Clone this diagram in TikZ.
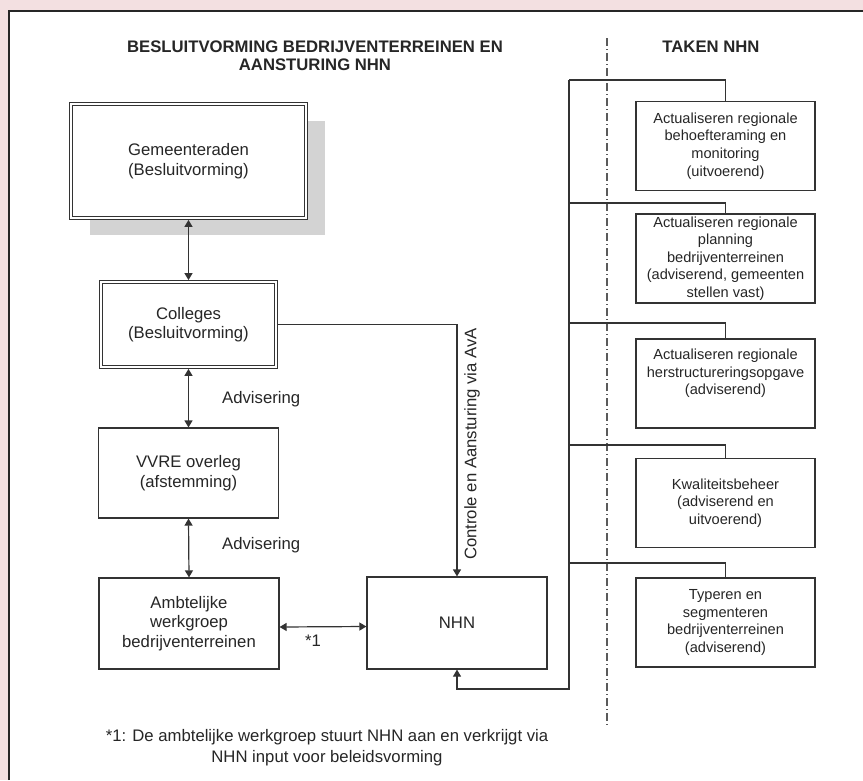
\documentclass[tikz,border=0pt]{standalone}
\usepackage{fontspec}
\setmainfont{Liberation Sans}
\usetikzlibrary{arrows.meta,shadows}
\definecolor{randroze}{HTML}{F3E0E1}
\definecolor{lijn}{HTML}{333333}
\definecolor{schaduw}{HTML}{D3D3D3}
\definecolor{tekst}{HTML}{262626}
\definecolor{streep}{HTML}{5A5A5A}
\begin{document}
\begin{tikzpicture}[x=1pt,y=-1pt,
    blok/.style={draw=lijn, line width=1.2pt, fill=white, text=tekst, align=center, inner sep=0pt,
      minimum width=180pt, minimum height=90pt, font=\fontsize{16.7}{19.5}\selectfont},
    dubbel/.style={blok, double=white, double distance=2pt, line width=0.9pt, outer sep=1.9pt},
    taak/.style={blok, minimum width=179pt, minimum height=89pt, font=\fontsize{14.6}{17.6}\selectfont},
    punt/.tip={Triangle[length=7pt,width=8pt]},
    pijl/.style={draw=lijn, line width=1.2pt, punt-punt},
    lijntje/.style={draw=lijn, line width=1.2pt},
    lbl/.style={text=tekst, font=\fontsize{16.7}{19.5}\selectfont, inner sep=0pt},
    kop/.style={text=tekst, font=\fontsize{16.7}{18}\selectfont\bfseries, align=center, inner sep=0pt}]
    \useasboundingbox (0,0) rectangle (863,780);
    % Achtergrond en kader
    \fill[randroze] (0,0) rectangle (863,780);
    \fill[white] (9,11) rectangle (863,780);
    \draw[black!85, line width=1.5pt] (9,780) -- (9,11) -- (863,11);

    % Koppen
    \node[kop] (titel) at (315,56) {BESLUITVORMING BEDRIJVENTERREINEN EN\\AANSTURING NHN};
    \node[kop] (takenkop) at (711,47) {TAKEN NHN};

    % Scheidingslijn
    \draw[streep, line width=1.2pt, dash pattern=on 8pt off 3pt on 1pt off 3pt] (607,38) -- (607,727);

    % Besluitvorming (links)
    \node[dubbel, minimum width=235pt, minimum height=114pt,
          drop shadow={shadow xshift=19pt, shadow yshift=-17pt, fill=schaduw, opacity=1}]
          (gem) at (188.5,161) {Gemeenteraden\\(Besluitvorming)};
    \node[dubbel, minimum width=175pt, minimum height=85pt] (col) at (188.5,324.5) {Colleges\\(Besluitvorming)};
    \node[blok] (vvre) at (188.5,473) {VVRE overleg\\(afstemming)};
    \node[blok, minimum height=91pt] (amb) at (189,623.5) {Ambtelijke\\werkgroep\\bedrijventerreinen};
    \node[blok, minimum height=92pt] (nhn) at (457,623) {NHN};

    \draw[pijl] (gem.south) -- (col.north);
    \draw[pijl] (col.south) -- (vvre.north);
    \draw[pijl] (vvre.south) -- (amb.north);
    \draw[pijl] ([yshift=-3.5pt]amb.east) -- ([yshift=-3.5pt]nhn.west);
    \draw[lijntje, -punt] (col.east) -| (nhn.north);

    \node[lbl, anchor=west] (adv1) at (222,399) {Advisering};
    \node[lbl, anchor=west] (adv2) at (222,545) {Advisering};
    \node[lbl] (ster) at (313,641) {*1};
    \node[lbl, rotate=90] (stuur) at (472,444) {Controle en Aansturing via AvA};

    % Taken NHN (rechts)
    \coordinate (stamtop) at (569,80);
    \coordinate (stambodem) at (569,689);
    \foreach \ty/\tb/\txt [count=\i] in {
        146/80/{Actualiseren regionale\\behoefteraming en\\monitoring\\(uitvoerend)},
        258.5/203/{Actualiseren regionale\\planning\\bedrijventerreinen\\(adviserend, gemeenten\\stellen vast)},
        383.5/323/{Actualiseren regionale\\herstructureringsopgave\\(adviserend)\\\strut},
        503/445/{Kwaliteitsbeheer\\(adviserend en\\uitvoerend)},
        622.5/563/{Typeren en\\segmenteren\\bedrijventerreinen\\(adviserend)}} {
        \node[taak] (t\i) at (725.5,\ty) {\txt};
        \draw[lijntje] (569,\tb) -| (t\i.north);
    }
    \draw[lijntje, -punt] (stamtop) -- (stambodem) -| (nhn.south);

    % Voetnoot
    \node[lbl, align=center, font=\fontsize{16.7}{20.5}\selectfont] (voetnoot) at (327,747.5)
        {*1: De ambtelijke werkgroep stuurt NHN aan en verkrijgt via\\NHN input voor beleidsvorming};
\end{tikzpicture}
\end{document}
